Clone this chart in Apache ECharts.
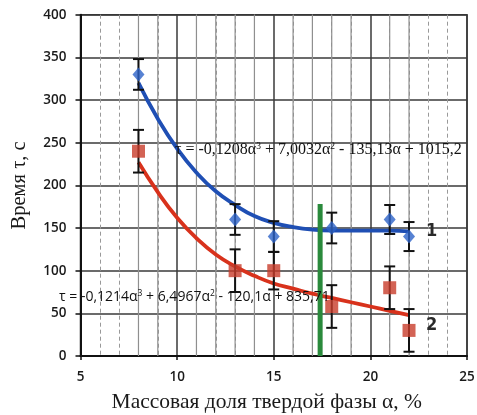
<!DOCTYPE html>
<html><head><meta charset="utf-8">
<script src="https://cdn.jsdelivr.net/npm/echarts@6/dist/echarts.min.js"></script>
<style>html,body{margin:0;padding:0;background:#fff}#c{width:477px;height:415px}</style>
</head><body><div id="c"></div>
<script>
// Data
const pointX = [8, 13, 15, 18, 21, 22];
const blueY = [330, 160, 140, 150, 160, 140];
const blueErr = [18, 18, 18, 18, 17, 17];
const redY = [240, 100, 100, 58, 80, 30];
const redErr = [25, 25, 22, 25, 25, 25];
const fitX = [8, 9, 10, 11, 12, 13, 14, 15, 16, 17, 18, 19, 20, 21, 22];
const blueFit = [320, 278, 243, 215, 193, 177, 164, 156, 151, 148, 147, 147, 147, 147, 146];
const redFit = [227, 192, 162, 138, 119, 105, 94, 85, 79, 73, 68, 63, 58, 53, 48];
const greenX = [17.4, 17.4];
const greenY = [0, 178];
const minorSolidX = [8, 9, 11, 12, 13, 14, 16, 17, 18, 19, 21, 22];

const zip = (a, b) => a.map((v, i) => [v, b[i]]);

const chart = echarts.init(document.getElementById('c'), null, {renderer: 'canvas'});

function errRender(params, api) {
  const x = api.value(0), y = api.value(1), e = api.value(2);
  const top = api.coord([x, y + e]);
  const bot = api.coord([x, y - e]);
  const hw = 5.5;
  const st = {stroke: '#111', lineWidth: 2};
  return {type: 'group', children: [
    {type: 'line', shape: {x1: top[0], y1: top[1], x2: bot[0], y2: bot[1]}, style: st},
    {type: 'line', shape: {x1: top[0] - hw, y1: top[1], x2: top[0] + hw, y2: top[1]}, style: st},
    {type: 'line', shape: {x1: bot[0] - hw, y1: bot[1], x2: bot[0] + hw, y2: bot[1]}, style: st}
  ]};
}

const serifFont = '"Liberation Serif", "DejaVu Serif", serif';
const sansFont = '"Open Sans", "Liberation Sans", sans-serif';

chart.setOption({
  animation: false,
  backgroundColor: '#fff',
  grid: {left: 80.5, right: 10, top: 14.7, bottom: 59, show: true, borderColor: '#333', borderWidth: 1.5,
         containLabel: false, outerBoundsMode: 'none'},
  xAxis: {
    type: 'value', min: 5, max: 25, interval: 5,
    name: 'Массовая доля твердой фазы α, %', nameLocation: 'middle', nameGap: 35,
    nameTextStyle: {fontFamily: serifFont, fontSize: 21.5, color: '#1a1a1a', padding: [0, 14, 0, 0]},
    axisLine: {show: true, onZero: false, lineStyle: {color: '#111', width: 2}},
    axisTick: {show: true, length: 4, lineStyle: {color: '#111', width: 1.5}},
    axisLabel: {fontFamily: sansFont, fontSize: 13.5, fontWeight: 600, color: '#1a1a1a', margin: 14},
    splitLine: {show: true, lineStyle: {color: '#3a3a3a', width: 1.5}},
    minorTick: {show: false, splitNumber: 5},
    minorSplitLine: {show: true, lineStyle: {color: '#999', width: 1, type: [4, 3]}}
  },
  yAxis: {
    type: 'value', min: 0, max: 400, interval: 50,
    name: 'Время τ, с', nameLocation: 'middle', nameGap: 50, nameRotate: 90,
    nameTextStyle: {fontFamily: serifFont, fontSize: 20.5, color: '#1a1a1a'},
    axisLine: {show: true, lineStyle: {color: '#111', width: 2}},
    axisTick: {show: true, length: 5, lineStyle: {color: '#111', width: 1.5}},
    axisLabel: {fontFamily: sansFont, fontSize: 13.5, fontWeight: 600, color: '#1a1a1a', margin: 14},
    splitLine: {show: true, lineStyle: {color: '#3a3a3a', width: 1.5}}
  },
  graphic: {
    elements: [
      {type: 'text', left: 175, top: 141, z: 100, zlevel: 1, style: {
        text: '{t|τ = -0,1208α}{s|3}{t| + 7,0032α}{s|2}{t| - 135,13α + 1015,2}',
        rich: {t: {fontFamily: serifFont, fontSize: 16, fill: '#111'},
               s: {fontFamily: serifFont, fontSize: 9.5, fill: '#111', padding: [0, 0, 8, 0]}}
      }},
      {type: 'text', left: 59, top: 289, z: 100, zlevel: 1, style: {
        text: '{t|τ = -0,1214α}{s|3}{t| + 6,4967α}{s|2}{t| - 120,1α + 835,71}',
        rich: {t: {fontFamily: sansFont, fontSize: 14, fill: '#111'},
               s: {fontFamily: sansFont, fontSize: 8.5, fill: '#111', padding: [0, 0, 7, 0]}}
      }},
      {type: 'text', left: 426, top: 222, z: 100, zlevel: 1, style: {text: '1', font: 'bold 18px "Liberation Sans Narrow", "DejaVu Sans Condensed", sans-serif', fill: '#2a2a2a'}},
      {type: 'text', left: 426, top: 316, z: 100, zlevel: 1, style: {text: '2', font: 'bold 18px "Liberation Sans Narrow", "DejaVu Sans Condensed", sans-serif', fill: '#2a2a2a'}}
    ]
  },
  series: [
    {
      type: 'custom', z: 1, silent: true,
      data: minorSolidX.map(v => [v]),
      renderItem: function (params, api) {
        const x = api.value(0);
        const a = api.coord([x, 0]), b = api.coord([x, 400]);
        return {type: 'line', shape: {x1: a[0], y1: a[1], x2: b[0], y2: b[1]}, style: {stroke: '#8f8f8f', lineWidth: 1.2}};
      }
    },
    {
      type: 'line', z: 3, data: zip(fitX, blueFit), smooth: true, showSymbol: false, symbol: 'none',
      lineStyle: {color: '#1f4fb4', width: 3.8}
    },
    {
      type: 'line', z: 3, data: zip(fitX, redFit), smooth: true, showSymbol: false, symbol: 'none',
      lineStyle: {color: '#d8321c', width: 3.8}
    },
    {
      type: 'line', z: 4, data: zip(greenX, greenY), showSymbol: false, symbol: 'none',
      lineStyle: {color: '#2a8a3c', width: 5}
    },
    {
      type: 'custom', z: 5, data: pointX.map((x, i) => [x, blueY[i], blueErr[i]]), renderItem: errRender
    },
    {
      type: 'custom', z: 5, data: pointX.map((x, i) => [x, redY[i], redErr[i]]), renderItem: errRender
    },
    {
      type: 'scatter', z: 6, data: zip(pointX, blueY), symbol: 'diamond', symbolSize: [12, 14],
      itemStyle: {color: '#2d63c8'}
    },
    {
      type: 'scatter', z: 6, data: zip(pointX, redY), symbol: 'rect', symbolSize: 13,
      itemStyle: {color: '#c83c2a'}
    }
  ]
});
</script>
</body></html>
